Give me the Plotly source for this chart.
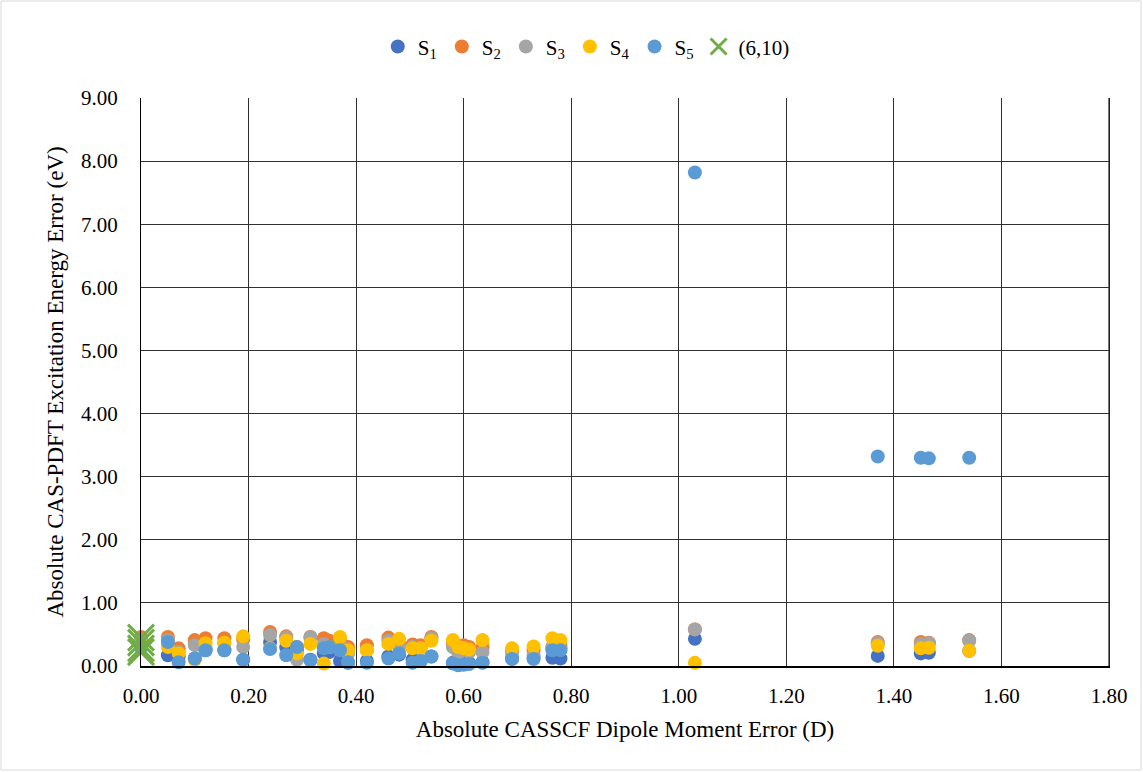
import plotly.graph_objects as go

# Absolute CASSCF dipole moment error (D) per molecule
x_dipole = [0.00, 0.05, 0.07, 0.10, 0.12, 0.155, 0.19, 0.24, 0.27, 0.29, 0.315, 0.34, 0.35, 0.37, 0.385,
            0.42, 0.46, 0.48, 0.505, 0.52, 0.54, 0.58, 0.59, 0.60, 0.61, 0.635, 0.69, 0.73, 0.765, 0.78,
            1.03, 1.37, 1.45, 1.465, 1.54]

s1 = [0.30, 0.17, 0.15, 0.12, 0.25, 0.25, 0.10, 0.38, 0.30, 0.25, 0.10, 0.20, 0.22, 0.08, 0.05,
      0.08, 0.15, 0.18, 0.10, 0.08, 0.15, 0.05, 0.02, 0.05, 0.05, 0.06, 0.12, 0.13, 0.13, 0.12,
      0.43, 0.16, 0.20, 0.21, 0.24]
s2 = [0.46, 0.46, 0.28, 0.41, 0.44, 0.44, 0.42, 0.54, 0.47, 0.30, 0.46, 0.44, 0.40, 0.42, 0.30,
      0.33, 0.45, 0.35, 0.34, 0.33, 0.46, 0.36, 0.28, 0.33, 0.30, 0.30, 0.26, 0.25, 0.30, 0.32,
      0.58, 0.38, 0.38, 0.37, 0.41]
s3 = [0.40, 0.41, 0.22, 0.33, 0.30, 0.36, 0.30, 0.49, 0.45, 0.10, 0.46, 0.35, 0.30, 0.35, 0.20,
      0.25, 0.40, 0.30, 0.30, 0.28, 0.44, 0.30, 0.20, 0.28, 0.22, 0.22, 0.20, 0.18, 0.30, 0.28,
      0.58, 0.36, 0.35, 0.36, 0.40]
s4 = [0.35, 0.30, 0.20, 0.10, 0.36, 0.37, 0.47, 0.28, 0.40, 0.20, 0.35, 0.04, 0.30, 0.46, 0.25,
      0.25, 0.35, 0.43, 0.28, 0.28, 0.40, 0.41, 0.30, 0.28, 0.26, 0.41, 0.28, 0.31, 0.44, 0.41,
      0.05, 0.32, 0.28, 0.29, 0.24]
s5 = [0.30, 0.38, 0.06, 0.12, 0.25, 0.25, 0.10, 0.27, 0.17, 0.30, 0.09, 0.28, 0.30, 0.25, 0.06,
      0.05, 0.12, 0.20, 0.05, 0.08, 0.15, 0.04, 0.01, 0.02, 0.03, 0.05, 0.11, 0.11, 0.25, 0.25,
      7.82, 3.32, 3.30, 3.29, 3.30]

x_610 = [0.0, 0.0, 0.0, 0.0]
y_610 = [0.45, 0.37, 0.28, 0.22]

series_names = ["S<sub>1</sub>", "S<sub>2</sub>", "S<sub>3</sub>", "S<sub>4</sub>", "S<sub>5</sub>"]
series_vals = [s1, s2, s3, s4, s5]
colors = ["#4472C4", "#ED7D31", "#A5A5A5", "#FFC000", "#5B9BD5"]

fig = go.Figure()
for name, vals, c in zip(series_names, series_vals, colors):
    fig.add_trace(go.Scatter(x=x_dipole, y=vals, mode="markers", name=name,
                             marker=dict(symbol="circle", size=14, color=c, line=dict(width=0)),
                             cliponaxis=False))
fig.add_trace(go.Scatter(x=x_610, y=y_610, mode="markers", name="(6,10)",
                         marker=dict(symbol="x-thin", size=26, color="#70AD47",
                                     line=dict(width=3, color="#70AD47")),
                         cliponaxis=False))

font_family = "Liberation Serif"
fig.update_layout(
    width=1143, height=772,
    margin=dict(l=141, r=34, t=98, b=106),
    paper_bgcolor="white", plot_bgcolor="white",
    font=dict(family=font_family, size=20, color="black"),
    showlegend=True,
    legend=dict(orientation="h", x=0.46, y=1.09, xanchor="center", yanchor="middle",
                font=dict(family=font_family, size=21, color="black"),
                itemwidth=30, tracegroupgap=0),
    xaxis=dict(range=[0, 1.8], dtick=0.2, tick0=0, tickformat=".2f",
               showgrid=True, gridcolor="#303030", gridwidth=1.3,
               showline=True, linecolor="black", linewidth=2, mirror=False,
               zeroline=False, ticks="", ticklabelstandoff=10,
               tickfont=dict(family=font_family, size=21, color="black"),
               title=dict(text="Absolute CASSCF Dipole Moment Error (D)",
                          font=dict(family=font_family, size=23, color="black"), standoff=14)),
    yaxis=dict(range=[0, 9], dtick=1, tick0=0, tickformat=".2f",
               showgrid=True, gridcolor="#303030", gridwidth=1.3,
               showline=True, linecolor="black", linewidth=1.3, mirror=True,
               zeroline=False, ticks="", ticklabelstandoff=18,
               tickfont=dict(family=font_family, size=21, color="black"),
               title=dict(text="Absolute CAS-PDFT Excitation Energy Error (eV)",
                          font=dict(family=font_family, size=23, color="black"), standoff=10)),
)
# outer chart-area border
fig.add_shape(type="rect", xref="paper", yref="paper",
              x0=(1 - 141) / 968, x1=(1141 - 141) / 968,
              y0=(666 - 770) / 568, y1=(666 - 1) / 568,
              line=dict(color="#D9D9D9", width=1), fillcolor="rgba(0,0,0,0)", layer="below")
# right border of plot area
fig.add_shape(type="line", xref="paper", yref="paper", x0=1, x1=1, y0=0, y1=1,
              line=dict(color="#303030", width=1.3))

fig.write_html("out.html")
